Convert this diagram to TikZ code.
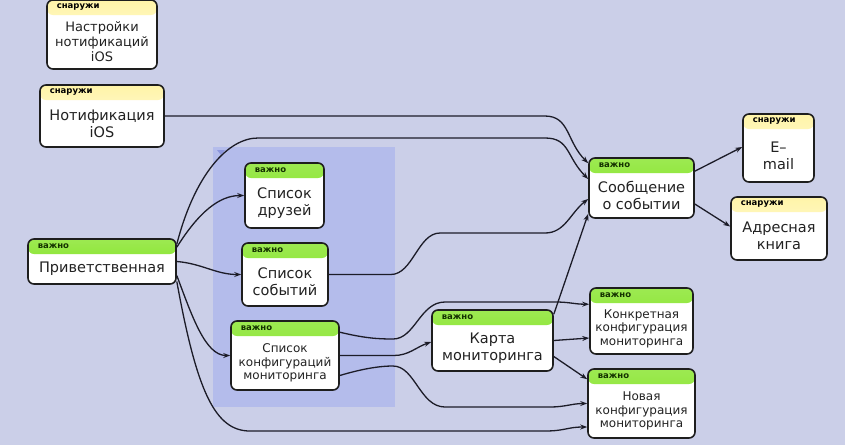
\documentclass[tikz,border=0pt]{standalone}
\usepackage{fontspec}
\setmainfont{DejaVu Sans}
\usepackage{tikz}
\usetikzlibrary{arrows.meta}

\definecolor{paper}{RGB}{203,207,232}
\definecolor{group}{RGB}{180,188,235}
\definecolor{marker}{RGB}{140,150,220}
\definecolor{cardline}{RGB}{30,30,30}
\definecolor{linecol}{RGB}{28,28,40}
\definecolor{headgreen}{RGB}{124,226,24}
\definecolor{headyellow}{RGB}{255,244,168}
\definecolor{taggreen}{RGB}{20,50,0}
\definecolor{inktext}{RGB}{34,34,34}

\begin{document}
\begin{tikzpicture}[
        x=1pt, y=-1pt,
        >={Stealth[length=7pt,width=5pt]},
        card/.style={draw=cardline, line width=1.6pt, fill=white, rounded corners=6pt, inner sep=0pt},
        tag/.style={anchor=west, inner sep=0pt, minimum width=0pt, minimum height=0pt, draw=none, fill=none,
            font=\bfseries\fontsize{8.5}{9}\selectfont},
        important/.style={card, path picture={
            \shade[top color=headgreen!75!white, bottom color=headgreen]
                (path picture bounding box.north west) rectangle ([yshift=-15pt]path picture bounding box.north east);
            \node[tag, text=taggreen] at ([xshift=9pt,yshift=-7.5pt]path picture bounding box.north west) {важно};}},
        outside/.style={card, path picture={
            \shade[top color=headyellow, bottom color=headyellow!25!white]
                (path picture bounding box.north west) rectangle ([yshift=-15pt]path picture bounding box.north east);
            \node[tag, text=black] at ([xshift=9pt,yshift=-7.5pt]path picture bounding box.north west) {снаружи};}},
        bigtext/.style={align=center, inner sep=0pt, text=inktext, font=\fontsize{14.5}{17}\selectfont},
        midtext/.style={align=center, inner sep=0pt, text=inktext, font=\fontsize{13}{15}\selectfont},
        smalltext/.style={align=center, inner sep=0pt, text=inktext, font=\fontsize{12}{13.5}\selectfont},
        link/.style={->, line width=1.3pt, draw=linecol},
    ]

    %Draw the background and the group of screens
    \useasboundingbox (0,0) rectangle (845,445);
    \fill[paper] (0,0) rectangle (845,445);
    \fill[group] (213,147) rectangle (395,407);
    \fill[marker] (217,150) -- (225,150) -- (221,155) -- cycle;

    %Draw the outside cards
    \node[outside, minimum width=110pt, minimum height=69pt] (iosset) at (102,34.5) {};
    \node[midtext] (iosset-t) at ([yshift=-7.5pt]iosset.center) {Настройки\\нотификаций\\iOS};
    \node[outside, minimum width=124pt, minimum height=62pt] (iosnote) at (102,116) {};
    \node[bigtext] (iosnote-t) at ([yshift=-7.5pt]iosnote.center) {Нотификация\\iOS};
    \node[outside, minimum width=71pt, minimum height=68pt] (email) at (778.5,148) {};
    \node[bigtext] (email-t) at ([yshift=-7.5pt]email.center) {E–\\mail};
    \node[outside, minimum width=96pt, minimum height=63pt] (book) at (779,228.5) {};
    \node[bigtext] (book-t) at ([yshift=-7.5pt]book.center) {Адресная\\книга};

    %Draw the important cards
    \node[important, minimum width=148pt, minimum height=45pt] (greet) at (102,261.5) {};
    \node[bigtext] (greet-t) at ([yshift=-7.5pt]greet.center) {Приветственная};
    \node[important, minimum width=79pt, minimum height=65pt] (friends) at (284.5,195.5) {};
    \node[bigtext] (friends-t) at ([yshift=-7.5pt]friends.center) {Список\\друзей};
    \node[important, minimum width=86pt, minimum height=63pt] (events) at (285,274.5) {};
    \node[bigtext] (events-t) at ([yshift=-7.5pt]events.center) {Список\\событий};
    \node[important, minimum width=108pt, minimum height=69pt] (configs) at (285,355.5) {};
    \node[smalltext] (configs-t) at ([yshift=-7.5pt]configs.center) {Список\\конфигураций\\мониторинга};
    \node[important, minimum width=121pt, minimum height=61pt] (map) at (492.5,340.5) {};
    \node[bigtext] (map-t) at ([yshift=-7.5pt]map.center) {Карта\\мониторинга};
    \node[important, minimum width=105pt, minimum height=60pt] (message) at (641.5,188) {};
    \node[bigtext] (message-t) at ([yshift=-7.5pt]message.center) {Сообщение\\о событии};
    \node[important, minimum width=103pt, minimum height=66pt] (concrete) at (641.5,321) {};
    \node[smalltext] (concrete-t) at ([yshift=-7.5pt]concrete.center) {Конкретная\\конфигурация\\мониторинга};
    \node[important, minimum width=107pt, minimum height=69pt] (newconf) at (641.5,403.5) {};
    \node[smalltext] (newconf-t) at ([yshift=-7.5pt]newconf.center) {Новая\\конфигурация\\мониторинга};

    %Draw the links from the welcome screen
    \draw[link] ([yshift=-6pt]greet.north east) .. controls +(18,-70) and +(-30,0) .. (258,138)
        -- (545,138) .. controls +(25,0) and +(-22,-22) .. ([yshift=9pt]message.west);
    \draw[link] ([yshift=-9pt]greet.north east) .. controls +(22,-35) and +(-25,0) .. (friends.west);
    \draw[link] (greet.east) .. controls +(25,2) and +(-25,0) .. (events.west);
    \draw[link] ([yshift=-14pt]greet.east) .. controls +(15,40) and +(-25,0) .. (configs.west);
    \draw[link] ([yshift=-20pt]greet.east) .. controls +(20,110) and +(-35,0) .. (250,431)
        -- (545,431) .. controls +(20,0) and +(-20,0) .. ([yshift=-23.5pt]newconf.west);

    %Draw the links from the notification and the lists
    \draw[link] (iosnote.east) -- ++(380,0) .. controls +(25,0) and +(-22,-22) .. ([yshift=-6pt]message.north west);
    \draw[link] (events.east) -- ++(62,0) .. controls +(22,0) and +(-22,0) .. (440,233)
        -- (545,233) .. controls +(20,0) and +(-18,14) .. ([yshift=-11pt]message.west);
    \draw[link] ([yshift=-12pt]configs.north east) .. controls +(25,6) and +(-15,0) .. (393,339)
        .. controls +(22,0) and +(-25,0) .. (445,302) -- (555,302) .. controls +(15,0) and +(-15,0) .. ([yshift=-17pt]concrete.north west);
    \draw[link] (configs.east) -- ++(54,0) .. controls +(15,0) and +(-15,5) .. ([yshift=-1.5pt]map.west);
    \draw[link] ([yshift=-20pt]configs.east) .. controls +(20,-6) and +(-15,0) .. (393,366)
        .. controls +(22,0) and +(-25,0) .. (445,407) -- (550,407) .. controls +(15,0) and +(-15,0) .. (newconf.west);

    %Draw the links from the map and the message
    \draw[link] ([yshift=-5pt]map.north east) -- ([yshift=5pt]message.south west);
    \draw[link] (map.east) -- ([yshift=-17pt]concrete.west);
    \draw[link] ([yshift=-16pt]map.east) -- ([yshift=-11pt]newconf.north west);
    \draw[link] ([yshift=-14pt]message.north east) -- ([yshift=1pt]email.west);
    \draw[link] ([yshift=-16pt]message.east) -- ([yshift=2pt]book.west);
\end{tikzpicture}
\end{document}
